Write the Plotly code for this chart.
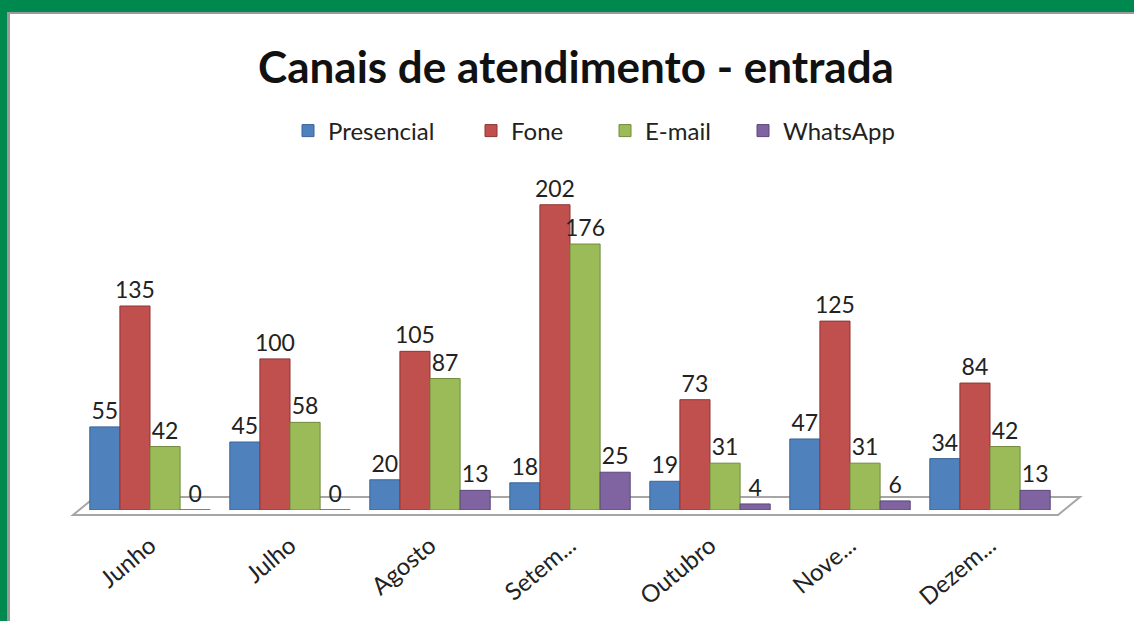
import plotly.graph_objects as go

months = ["Junho", "Julho", "Agosto", "Setem...", "Outubro", "Nove...", "Dezem..."]
presencial = [55, 45, 20, 18, 19, 47, 34]
fone = [135, 100, 105, 202, 73, 125, 84]
email = [42, 58, 87, 176, 31, 31, 42]
whatsapp = [0, 0, 13, 25, 4, 6, 13]

series = [
    ("Presencial", presencial, "#4F81BD", "#3A6597"),
    ("Fone", fone, "#C0504D", "#8E3532"),
    ("E-mail", email, "#9BBB59", "#718B3E"),
    ("WhatsApp", whatsapp, "#8064A2", "#5C4679"),
]
legend_px = [288, 471, 605, 743]  # left pixel of each legend entry

W, H = 1134, 621
L, R, T, B = 80, 74, 170, 111
pw, ph = W - L - R, H - T - B

def px(x):
    return (x - L) / pw

def py(y):
    return (H - B - y) / ph

fig = go.Figure()
layout_legends = {}
for i, (name, vals, col, edge) in enumerate(series):
    lname = "legend" if i == 0 else f"legend{i+1}"
    fig.add_trace(go.Bar(
        name=name, x=months, y=vals, legend=lname, showlegend=True,
        marker=dict(color=col, line=dict(color=edge, width=1)),
        text=[str(v) for v in vals], textposition="outside", constraintext="none",
        textfont=dict(size=23, color="#222222", family="Lato"),
        cliponaxis=False,
    ))
    layout_legends[lname] = dict(
        orientation="h", x=px(legend_px[i]), xanchor="left", y=py(131), yanchor="middle",
        font=dict(size=24, color="#222222", family="Lato"), itemwidth=30,
        bgcolor="rgba(0,0,0,0)", visible=True,
    )

shapes = [
    dict(type="path", xref="paper", yref="paper",
         path=f"M {px(73)} {py(515)} L {px(95)} {py(497)} L {px(1080)} {py(497)} L {px(1058)} {py(515)} Z",
         line=dict(color="#A6A6A6", width=2), fillcolor="rgba(255,255,255,0)", layer="below"),
    dict(type="rect", xref="paper", yref="paper", x0=px(0), x1=px(W), y0=py(0), y1=py(12),
         fillcolor="#00894F", line=dict(width=0)),
    dict(type="rect", xref="paper", yref="paper", x0=px(0), x1=px(7), y0=py(0), y1=py(H),
         fillcolor="#00894F", line=dict(width=0)),
    dict(type="rect", xref="paper", yref="paper", x0=px(7), x1=px(W), y0=py(12), y1=py(14),
         fillcolor="#9A9A9A", line=dict(width=0)),
    dict(type="rect", xref="paper", yref="paper", x0=px(7), x1=px(10), y0=py(12), y1=py(H),
         fillcolor="#9A9A9A", line=dict(width=0)),
]

fig.update_layout(
    width=W, height=H,
    margin=dict(l=L, r=R, t=T, b=B, autoexpand=False),
    paper_bgcolor="white", plot_bgcolor="white",
    barmode="group", bargap=0.14, bargroupgap=0,
    showlegend=True,
    font=dict(family="Lato", color="#222222"),
    title=dict(text="<b>Canais de atendimento - entrada</b>", x=px(576), xanchor="center",
               xref="paper", y=1 - 68 / H, yanchor="middle",
               font=dict(size=44, color="#111111", family="Lato")),
    xaxis=dict(tickangle=-40, tickfont=dict(size=24, color="#222222"), showline=False,
               showgrid=False, ticks="", ticklabelstandoff=16, automargin=False),
    yaxis=dict(range=[0, 225], visible=False, showgrid=False, automargin=False),
    shapes=shapes,
    **layout_legends,
)

fig.write_html("out.html", config={"displayModeBar": False},
               post_script="document.body.style.margin='0px';")
